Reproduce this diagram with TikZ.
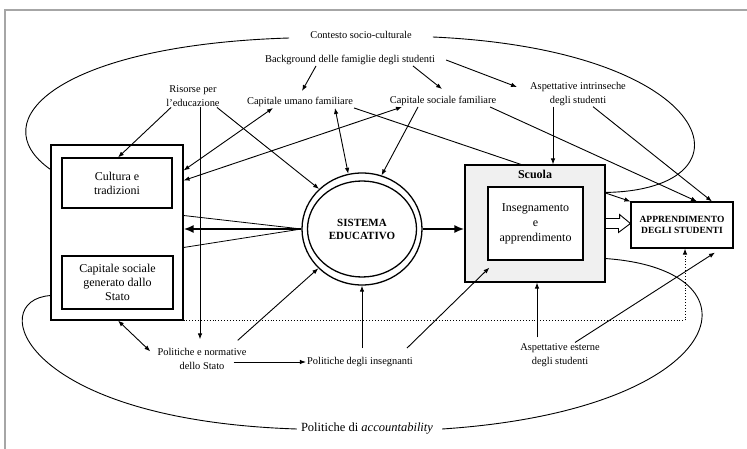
\documentclass[tikz,border=0pt]{standalone}
\usepackage{fontspec}
\setmainfont{Liberation Serif}
\usetikzlibrary{positioning,shapes.geometric,arrows.meta}
\pgfdeclarelayer{edgelayer}
\pgfdeclarelayer{nodelayer}
\pgfsetlayers{edgelayer,nodelayer,main}
\tikzset{>={Latex[length=6pt,width=4.5pt]}}
\tikzset{
  lbl/.style={inner sep=1pt, align=center, font=\fontsize{10.4}{13.5}\selectfont},
  box/.style={draw, line width=1.1pt, rectangle, align=center, inner sep=2pt,
    font=\fontsize{12}{14}\selectfont},
  sysout/.style={draw, ellipse, line width=1.3pt, inner sep=0pt,
    minimum width=120pt, minimum height=112pt},
  sysin/.style={draw, ellipse, line width=1.3pt, inner sep=0pt, align=center,
    minimum width=109pt, minimum height=96pt, font=\fontsize{11}{13}\selectfont\bfseries},
  link/.style={->, line width=0.9pt},
  biglink/.style={-{Latex[length=10pt,width=8pt]}, line width=2.6pt},
  hollow/.style={line width=0.9pt, line join=miter},
  loop/.style={line width=0.9pt},
}

\begin{document}
\begin{tikzpicture}[x=1pt, y=-1pt]
  \useasboundingbox (0,0) rectangle (747,449);

  % Frame
  \draw[gray!70, line width=1.5pt] (5,449) -- (5,10) -- (747,10);

  % Nodes
  \node[lbl]              (contesto)    at (361,35)  {Contesto socio-culturale};
  \node[lbl]              (background)  at (350,60)  {Background delle famiglie degli studenti};
  \node[lbl]              (risorse)     at (193,96)  {Risorse per\\l'educazione};
  \node[lbl]              (umano)       at (300,102) {Capitale umano familiare};
  \node[lbl]              (socialef)    at (443,101) {Capitale sociale familiare};
  \node[lbl]              (intrinseche) at (578,94)  {Aspettative intrinseche\\degli studenti};

  \node[draw, line width=1.1pt, minimum width=132pt, minimum height=175pt] (leftbox) at (117,232.5) {};
  \node[box, minimum width=110pt, minimum height=50pt] (cultura) at (117,183) {Cultura e\\tradizioni};
  \node[box, minimum width=111pt, minimum height=53pt] (capstato) at (117.5,282.5) {Capitale sociale\\generato dallo\\Stato};

  \node[sysout]           (sistema)     at (362,229) {};
  \node[sysin]            (sistemain)   at (sistema.center) {SISTEMA\\EDUCATIVO};

  \node[box, fill=gray!12, minimum width=140pt, minimum height=117pt] (scuola) at (535,223.5) {};
  \node[inner sep=1pt, font=\fontsize{12}{14}\selectfont\bfseries, below=5pt of scuola.north] (scuolalab) {Scuola};
  \node[box, fill=white, minimum width=95pt, minimum height=73pt,
    font=\fontsize{12}{15}\selectfont] (insegn) at (535.5,223.5) {Insegnamento\\e\\apprendimento};
  \node[box, minimum width=102pt, minimum height=46pt,
    font=\fontsize{9.5}{11}\selectfont\bfseries] (apprend) at (682,225) {APPRENDIMENTO\\DEGLI STUDENTI};

  \node[lbl]              (normative)   at (202,359) {Politiche e normative\\dello Stato};
  \node[lbl]              (insegnanti)  at (360,362) {Politiche degli insegnanti};
  \node[lbl]              (esterne)     at (560,355) {Aspettative esterne\\degli studenti};
  \node[lbl, font=\fontsize{12.5}{15}\selectfont] (account) at (367,429) {Politiche di \textit{accountability}};

  % Loops
  \draw[loop] ([xshift=-20,yshift=-3]contesto.west) .. controls (60,45) and (-20,120) .. ([yshift=-25]leftbox.north west);
  \draw[loop] ([xshift=20,yshift=-2]contesto.east) .. controls (720,50) and (760,190) .. ([yshift=-28]scuola.north east);
  \draw[loop] ([xshift=-3]account.west) .. controls (20,420) and (-15,300) .. ([yshift=25]leftbox.south west);
  \draw[loop] ([xshift=8]account.east) .. controls (730,410) and (770,270) .. ([yshift=24]scuola.south east);

  % Edges
  \begin{pgfonlayer}{edgelayer}
    \draw[link] (umano.south east) -- (apprend.north west);
  \end{pgfonlayer}
  \draw[link] ([xshift=-34]background.south) -- ([xshift=2,yshift=5]umano.north);
  \draw[link] ([xshift=63]background.south) -- ([xshift=-1,yshift=6]socialef.north);
  \draw[link] ([xshift=10]background.east) -- ([xshift=-12,yshift=7]intrinseche.west);
  \draw[link] ([xshift=-22]risorse.south) -- ([xshift=1]cultura.north);
  \draw[link] ([xshift=24]risorse.south) -- (sistema.137);
  \draw[link] ([xshift=7]risorse.south) -- ([xshift=-2,yshift=8]normative.north);
  \draw[link,<->] ([xshift=-27]umano.south) -- ([yshift=62]leftbox.east);
  \draw[link,<->] ([xshift=35]umano.south) -- (sistema.104);
  \draw[link,<->] ([xshift=-41]socialef.south) -- ([yshift=52]leftbox.east);
  \draw[link] ([xshift=-25]socialef.south) -- (sistema.70);
  \draw[link] ([xshift=47]socialef.south) -- ([xshift=15]apprend.north);
  \draw[link] ([xshift=-25]intrinseche.south) -- ([xshift=18]scuola.north);
  \draw[link] ([xshift=15]intrinseche.south) -- ([xshift=30]apprend.north);
  \draw[link,<->] ([xshift=1]leftbox.south) -- ([xshift=-6,yshift=-4]normative.north west);
  \draw[link] ([xshift=-10,yshift=7]normative.north east) -- (sistema.222);
  \draw[link] ([xshift=-14,yshift=-3]normative.east) -- (insegnanti.west);
  \draw[link] ([xshift=2,yshift=8]insegnanti.north) -- (sistema.south);
  \draw[link] ([xshift=47,yshift=8]insegnanti.north) -- ([xshift=2,yshift=-7]insegn.south west);
  \draw[link] ([xshift=-23,yshift=5]esterne.north) -- ([xshift=2]scuola.south);
  \draw[link] ([xshift=15]esterne.north) -- ([xshift=33,yshift=-4]apprend.south);
  \draw[link, dotted, line width=0.9pt] (leftbox.south east) -| ([xshift=3]apprend.south);

  % Main flow
  \draw[line width=0.8pt] ([yshift=17]leftbox.east) -- (sistema.west);
  \draw[line width=0.8pt] ([yshift=-15]leftbox.east) -- (sistema.west);
  \draw[biglink] (sistema.west) -- (sistema.west -| leftbox.east);
  \draw[biglink] (sistema.east) -- (sistema.east -| scuola.west);
  \draw[hollow] ([yshift=5]scuola.east) -- ++(14,0) -- ++(0,-4)
    -- (scuola.east -| apprend.west) -- ++(-12,9) -- ++(0,-4) -- ++(-14,0);

\end{tikzpicture}
\end{document}
